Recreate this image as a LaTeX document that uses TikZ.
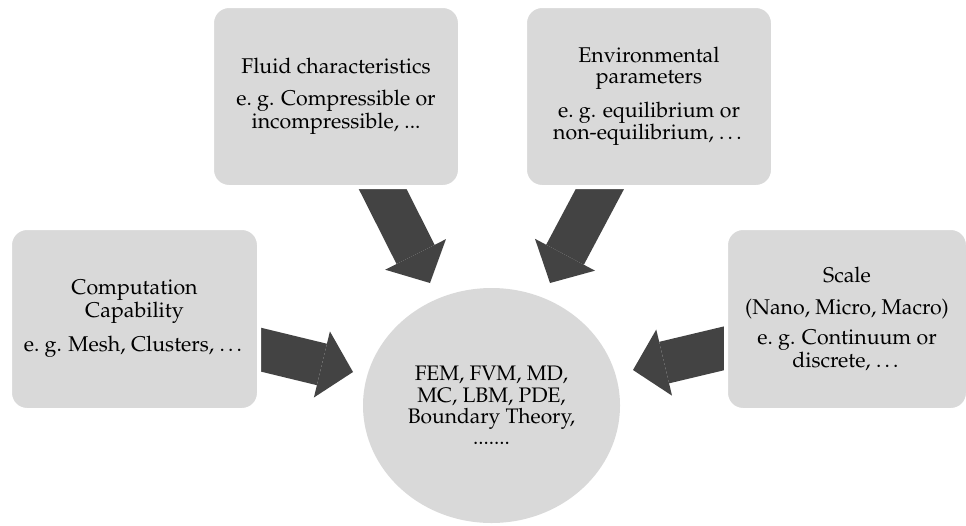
\documentclass[tikz,border=0pt]{standalone}
\usepackage[T1]{fontenc}
\usepackage{mathpazo}
\usepackage{tikz}
\usetikzlibrary{shapes.geometric, arrows.meta, backgrounds}
\definecolor{boxgray}{HTML}{D9D9D9}
\definecolor{arrowgray}{HTML}{434343}

\begin{document}
\begin{tikzpicture}[x=0.75pt, y=-0.75pt,
  factor/.style={rectangle, rounded corners=12.75pt, fill=boxgray, draw=white, line width=3pt, inner sep=0pt, align=center, font=\fontsize{16}{15.5}\selectfont},
  method/.style={ellipse, fill=boxgray, inner sep=0pt, align=center, minimum width=192.75pt, minimum height=176.25pt, font=\fontsize{15.75}{16}\selectfont},
  bigarrow/.style={arrowgray, line width=32pt, -{Triangle[width=51pt, length=24pt, line width=0pt]}}]

\useasboundingbox (0,0) rectangle (966,525);

\node[factor, minimum width=186pt, minimum height=135.75pt] (fluid) at (336,96.5) {Fluid characteristics\\[8.5pt] e.\ g. Compressible or\\ incompressible, ...};
\node[factor, minimum width=186pt, minimum height=135.75pt] (envir) at (649,96.5) {Environmental\\ parameters\\[8.5pt] e.\ g. equilibrium or\\ non-equilibrium, \dots};
\node[factor, minimum width=186.75pt, minimum height=136.5pt] (compu) at (134.5,319) {Computation\\ Capability\\[8.5pt] e.\ g. Mesh, Clusters, \dots};
\node[factor, minimum width=181.5pt, minimum height=136.5pt] (scale) at (847,319) {Scale\\[8.5pt] (Nano, Micro, Macro)\\[7pt] e.\ g. Continuum or\\ discrete, \dots};

\node[method] (methods) at (491.5,405.5) {FEM, FVM, MD,\\ MC, LBM, PDE,\\ Boundary Theory,\\ .......};

\coordinate (fl-tip) at (430,283);
\coordinate (en-tip) at (550,283);
\coordinate (co-tip) at (353,372);
\coordinate (sc-tip) at (633,370);

\begin{scope}[on background layer]
\draw[bigarrow] (fluid.center) -- (fl-tip);
\draw[bigarrow] (envir.center) -- (en-tip);
\draw[bigarrow] (compu.center) -- (co-tip);
\draw[bigarrow] (scale.center) -- (sc-tip);
\end{scope}
\end{tikzpicture}
\end{document}
